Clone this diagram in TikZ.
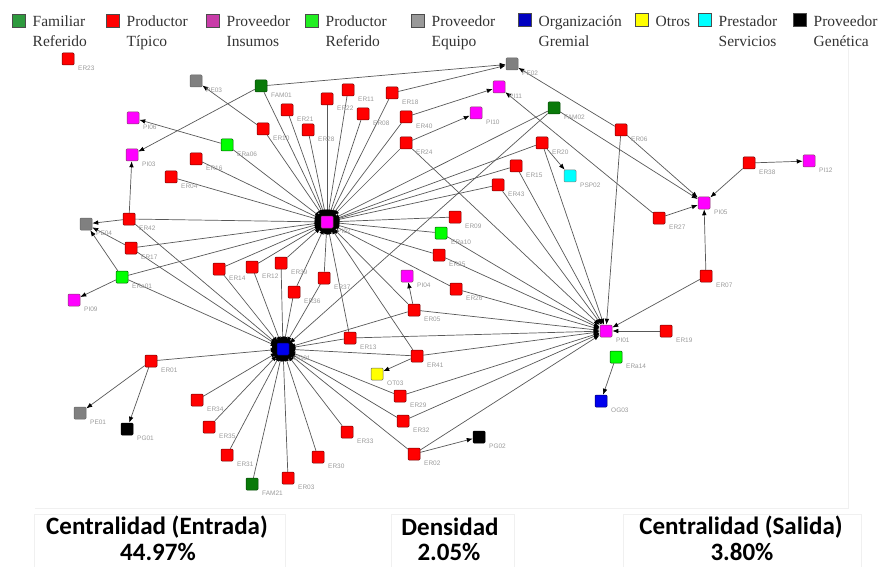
\documentclass[tikz,border=0pt]{standalone}
\usepackage{fontspec}
\setmainfont{Liberation Serif}
\newfontfamily\lblfont{Liberation Sans}
\newfontfamily\statfont{Carlito}
\usetikzlibrary{arrows.meta,backgrounds}
\definecolor{cRed}{HTML}{FF0000}
\definecolor{cMag}{HTML}{FF00FF}
\definecolor{cGrn}{HTML}{00FF00}
\definecolor{cFam}{HTML}{0A7A0A}
\definecolor{cGray}{HTML}{808080}
\definecolor{cBlue}{HTML}{0000EE}
\definecolor{cYel}{HTML}{FFFF00}
\definecolor{cCyan}{HTML}{00FFFF}
\definecolor{cBlk}{HTML}{000000}
\definecolor{lFam}{HTML}{2E9A3E}
\definecolor{lMag}{HTML}{C83CA8}
\definecolor{lGrn}{HTML}{22EE22}
\definecolor{lGray}{HTML}{999999}
\definecolor{lBlue}{HTML}{0000C0}
\definecolor{lblgray}{HTML}{9A9A9A}
\definecolor{edgegray}{HTML}{585858}
\tikzset{
  sq/.style={rectangle,minimum size=12pt,inner sep=0pt,rounded corners=1pt,draw=black!55,line width=0.5pt},
  ntR/.style={fill=cRed,draw=red!45!black},
  ntM/.style={fill=cMag,draw=magenta!45!black},
  ntG/.style={fill=cGrn,draw=green!35!black},
  ntF/.style={fill=cFam,draw=cFam!60!black},
  ntE/.style={fill=cGray,draw=black!60},
  ntO/.style={fill=cBlue,draw=blue!40!black},
  ntY/.style={fill=cYel,draw=black!60},
  ntC/.style={fill=cCyan,draw=black!50},
  ntK/.style={fill=cBlk,draw=black},
  hubring/.style={circle,fill=black,minimum size=23pt,inner sep=0pt},
  lbl/.style={anchor=west,inner sep=0pt,font=\lblfont\fontsize{6.5}{7}\selectfont,text=lblgray},
  lsq/.style={rectangle,minimum size=12.5pt,inner sep=0pt,draw=black!70,line width=0.6pt},
  ltxt/.style={anchor=base west,inner sep=0pt,font=\fontsize{15.5}{18}\selectfont,text=black!80},
  stat/.style={inner sep=0pt,font=\statfont\bfseries\fontsize{25}{28}\selectfont},
  edge/.style={draw=edgegray,line width=0.7pt,-{Latex[length=6pt,width=4.6pt,color=black]}},
  frame/.style={draw=black!6,line width=0.6pt}
}
\newcommand\nd[5]{\node[sq,#4] (#1) at (#2,#3) {}; \node[lbl] (#1-t) at (#2+10,#3+9) {#5};}
\newcommand\legitem[6]{\node[lsq,fill=#4] (#1) at (#2,#3) {}; \node[ltxt] (#1-a) at (#2+13.5,26.5) {#5}; \node[ltxt] (#1-b) at (#2+13.5,46.5) {#6};}
\begin{document}
\begin{tikzpicture}[x=1pt,y=-1pt]
\useasboundingbox (0,0) rectangle (884,567);
% faint frames
\draw[frame] (35,508) -- (848,508) -- (848,48);
\draw[frame] (34,514) rectangle (285,567);
\draw[frame] (391,514) rectangle (514,567);
\draw[frame] (623,514) rectangle (861,567);
% legend
\legitem{L1}{19}{21}{lFam}{Familiar}{Referido}
\legitem{L2}{113}{21}{cRed}{Productor}{Típico}
\legitem{L3}{213}{21}{lMag}{Proveedor}{Insumos}
\legitem{L4}{312}{21}{lGrn}{Productor}{Referido}
\legitem{L5}{418}{21}{lGray}{Proveedor}{Equipo}
\legitem{L6}{525}{20}{lBlue}{Organización}{Gremial}
\node[lsq,fill=cYel] (L7) at (642,20) {};
\node[ltxt] (L7-a) at (655.5,26.5) {Otros};
\legitem{L8}{705}{20}{cCyan}{Prestador}{Servicios}
\legitem{L9}{800}{20}{cBlk}{Proveedor}{Genética}
% arrowhead clusters at the two hubs
\node[hubring] (ringPI02) at (327,222) {};
\node[hubring] (ringOG01) at (283,349) {};
% nodes
\nd{ER23}{68}{59}{ntR}{ER23}
\nd{PE03}{196}{81}{ntE}{PE03}
\nd{FAM01}{261}{86}{ntF}{FAM01}
\nd{PE02}{512}{64}{ntE}{PE02}
\nd{PI11}{499}{87}{ntM}{PI11}
\nd{PI06}{133}{118}{ntM}{PI06}
\nd{PI03}{132}{155}{ntM}{PI03}
\nd{ERa06}{227}{145}{ntG}{ERa06}
\nd{ER10}{263}{129}{ntR}{ER10}
\nd{ER21}{287}{110}{ntR}{ER21}
\nd{ER28}{308}{130}{ntR}{ER28}
\nd{ER22}{327}{99}{ntR}{ER22}
\nd{ER11}{348}{90}{ntR}{ER11}
\nd{ER08}{363}{114}{ntR}{ER08}
\nd{ER18}{392}{93}{ntR}{ER18}
\nd{ER40}{406}{117}{ntR}{ER40}
\nd{ER24}{406}{143}{ntR}{ER24}
\nd{PI10}{476}{113}{ntM}{PI10}
\nd{FAM02}{554}{108}{ntF}{FAM02}
\nd{ER20}{542}{143}{ntR}{ER20}
\nd{ER15}{516}{166}{ntR}{ER15}
\nd{PSP02}{570}{176}{ntC}{PSP02}
\nd{ER43}{498}{185}{ntR}{ER43}
\nd{ER06}{621}{130}{ntR}{ER06}
\nd{ER38}{749}{163}{ntR}{ER38}
\nd{PI12}{809}{161}{ntM}{PI12}
\nd{PI05}{704}{203}{ntM}{PI05}
\nd{ER27}{659}{218}{ntR}{ER27}
\nd{ER07}{706}{276}{ntR}{ER07}
\nd{PI01}{606}{331}{ntM}{PI01}
\nd{ER19}{666}{331}{ntR}{ER19}
\nd{ERa14}{616}{357}{ntG}{ERa14}
\nd{OG03}{601}{401}{ntO}{OG03}
\nd{ER16}{196}{159}{ntR}{ER16}
\nd{ER04}{171}{177}{ntR}{ER04}
\nd{ER42}{129}{219}{ntR}{ER42}
\nd{PE04}{86}{224}{ntE}{PE04}
\nd{ER17}{131}{248}{ntR}{ER17}
\nd{ERa01}{122}{277}{ntG}{ERa01}
\nd{PI09}{74}{300}{ntM}{PI09}
\nd{PI02}{327}{222}{ntM}{PI02}
\nd{ER09}{455}{217}{ntR}{ER09}
\nd{ERa10}{441}{233}{ntG}{ERa10}
\nd{ER25}{439}{255}{ntR}{ER25}
\nd{ER14}{219}{269}{ntR}{ER14}
\nd{ER12}{252}{267}{ntR}{ER12}
\nd{ER39}{281}{263}{ntR}{ER39}
\nd{ER36}{294}{292}{ntR}{ER36}
\nd{ER37}{324}{278}{ntR}{ER37}
\nd{PI04}{407}{276}{ntM}{PI04}
\nd{ER26}{456}{289}{ntR}{ER26}
\nd{ER05}{414}{310}{ntR}{ER05}
\nd{ER13}{350}{338}{ntR}{ER13}
\nd{OG01}{283}{349}{ntO}{OG01}
\nd{ER41}{417}{356}{ntR}{ER41}
\nd{OT03}{377}{374}{ntY}{OT03}
\nd{ER29}{400}{396}{ntR}{ER29}
\nd{ER32}{403}{421}{ntR}{ER32}
\nd{ER33}{347}{432}{ntR}{ER33}
\nd{ER34}{197}{400}{ntR}{ER34}
\nd{ER35}{209}{427}{ntR}{ER35}
\nd{ER31}{227}{455}{ntR}{ER31}
\nd{FAM21}{252}{484}{ntF}{FAM21}
\nd{ER03}{288}{478}{ntR}{ER03}
\nd{ER30}{318}{457}{ntR}{ER30}
\nd{ER02}{414}{454}{ntR}{ER02}
\nd{PG02}{479}{437}{ntK}{PG02}
\nd{ER01}{151}{361}{ntR}{ER01}
\nd{PE01}{80}{413}{ntE}{PE01}
\nd{PG01}{127}{429}{ntK}{PG01}
% edges
\begin{scope}[on background layer]
\foreach \s in {FAM01,ER10,ER21,ER28,ER22,ER11,ER08,ER18,ER40,ER24,ERa06,ER16,ER04,ER42,ER17,ERa01,ER14,ER12,ER39,ER36,ER37,ER13,ER41,ER05,ER26,ER25,ERa10,ER09,ER43,ER15,ER20,FAM02}
  \draw[edge] (\s) -- (PI02);
\foreach \s in {ER42,ER17,ERa01,ER01,ER34,ER35,ER31,FAM21,ER03,ER30,ER33,ER02,ER32,ER29,ER41,ER13,ER05,ER37,ER36,ER39,ER12,ER14,FAM02}
  \draw[edge] (\s) -- (OG01);
\foreach \s in {ER06,ER07,ER19,ER20,ER15,ER43,ER24,ERa10,ER25,ER26,ER05,ER13,ER41,ER29,ER32,ER02}
  \draw[edge] (\s) -- (PI01);
\foreach \s/\t in {ER10/PE03,ERa06/PI06,FAM01/PE02,FAM01/PI03,ER42/PI03,ER42/PE04,ER17/PE04,ERa01/PE04,ERa01/PI09,ER18/PE02,ER40/PI11,ER24/PI10,ER06/PE02,ER06/PI05,FAM02/PI05,ER27/PI11,ER27/PI05,ER38/PI12,ER38/PI05,ER07/PI05,ERa14/OG03,ER20/PSP02,ER05/PI04,ER41/OT03,ER01/PE01,ER01/PG01,ER02/PG02}
  \draw[edge] (\s) -- (\t);
\end{scope}
% statistics
\node[stat] (S1) at (157,527) {Centralidad (Entrada)};
\node[stat] (S1v) at (158,552) {44.97\%};
\node[stat] (S2) at (450,527) {Densidad};
\node[stat] (S2v) at (449,552) {2.05\%};
\node[stat] (S3) at (741,527) {Centralidad (Salida)};
\node[stat] (S3v) at (742,552) {3.80\%};
\end{tikzpicture}
\end{document}
